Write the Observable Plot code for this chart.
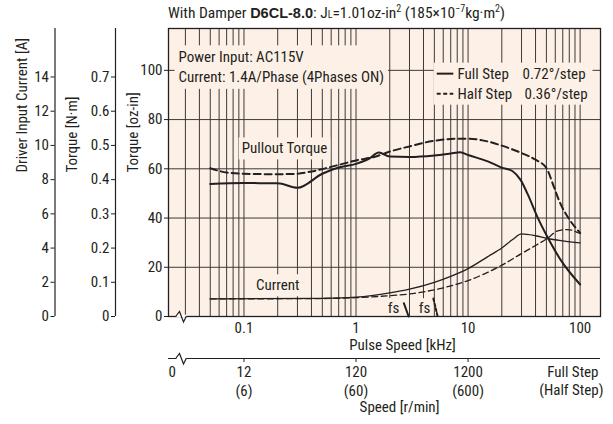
<!DOCTYPE html>
<html><head><meta charset="utf-8">
<script src="https://cdn.jsdelivr.net/npm/d3@7"></script>
<script src="https://cdn.jsdelivr.net/npm/@observablehq/plot@0.6"></script>
<style>
body{margin:0;background:#fff;}
#wrap{position:relative;width:613px;height:424px;font-family:"Roboto Condensed",sans-serif;color:#231f20;}
#title{position:absolute;left:168px;top:6px;font-size:15.5px;line-height:15px;white-space:nowrap;}
#title b{font-family:"Liberation Sans",Arial,sans-serif;font-weight:bold;font-size:14.5px;}
#title sup{font-size:10px;vertical-align:6px;line-height:0;}
#title .sub{font-size:10px;}
</style></head>
<body><div id="wrap"><div id="title">With Damper <b>D6CL-8.0</b>: J<span class="sub">L</span>=1.01oz-in<sup>2</sup> (185×10<sup>−7</sup>kg·m<sup>2</sup>)</div></div>
<script>
// ---- data ----
const pulseFullPO = [0.05,0.1,0.2,0.3,0.5,0.7,1,1.3,1.6,2,3,5,7,8.5,10,15,20,25,29.4,33.8,41.5,51,67,100];
const torqueFullPO = [53.8,54.2,54.1,52.3,58,60.5,62,64,66.6,65,64.8,65.4,66.2,66.7,65.6,63,60.5,59,55.5,50,40.5,32.4,23,13];
const pulseHalfPO = [0.05,0.07,0.1,0.2,0.3,0.4,0.7,1,1.5,2,3,5,8,10,15,20,30,40,50,58,65,80,100];
const torqueHalfPO = [60.2,58.5,58,57.8,58,58.9,61.6,63.4,65,67,69.1,71.4,72.2,72.2,71.1,69.4,66.4,63.7,60.3,53,47,39.5,34];
const pulseFullCur = [0.05,0.5,1,2,3,5,7,10,15,20,25,30,40,51,70,100];
const ampFullCur = [1.03,1.06,1.13,1.38,1.6,2.0,2.35,2.8,3.5,4.0,4.5,4.83,4.72,4.56,4.42,4.3];
const pulseHalfCur = [0.05,0.5,1,2,3,5,10,20,30,40,51,63,77,100];
const ampHalfCur = [1.03,1.05,1.1,1.22,1.32,1.56,2.1,3.0,3.68,4.15,4.56,5.0,5.08,4.85];
const pulseFullFs = [2.67,2.95];
const torqueFullFs = [5.4,0];
const pulseHalfFs = [4.9,5.35];
const torqueHalfFs = [7.3,0];

const ozTicks = [0,20,40,60,80,100];
const nmTicks = [0,0.1,0.2,0.3,0.4,0.5,0.6,0.7];
const ampTicks = [0,2,4,6,8,10,12,14];
const pulseTicks = [0.1,1,10,100];
const speedFullTicks = [12,120,1200];
const speedHalfTicks = [6,60,600];
const gridPulse = [0.03,0.04,0.05,0.06,0.07,0.08,0.09,0.1,0.2,0.3,0.4,0.5,0.6,0.7,0.8,0.9,1,2,3,4,5,6,7,8,9,10,20,30,40,50,60,70,80,90,100];
const gridTorque = [20,40,60,80,100];
const legendLabels = ["Full Step", "Half Step"];
const legendAngles = ["0.72°/step", "0.36°/step"];

// ---- styling / scale constants ----
const FONT = '"Roboto Condensed",sans-serif';
const INK = "#231f20", PEACH = "#fdf1e7", GRID = "#3a3a3a";
const OZ_PER_A = 6.95, OZ_PER_NM = 139;
const RPM_PER_KHZ_FULL = 120, RPM_PER_KHZ_HALF = 60;
const xDomain = [0.0212, 152], yDomain = [0, 117];

const rows = (xs, ys) => xs.map((x, i) => ({x, y: ys[i]}));
const fullPO = rows(pulseFullPO, torqueFullPO);
const halfPO = rows(pulseHalfPO, torqueHalfPO);
const fullCur = rows(pulseFullCur, ampFullCur.map(a => a * OZ_PER_A));
const halfCur = rows(pulseHalfCur, ampHalfCur.map(a => a * OZ_PER_A));
const fullFs = rows(pulseFullFs, torqueFullFs);
const halfFs = rows(pulseHalfFs, torqueHalfFs);

const notes = [
  {x: 0.23, y: 68.2, t: "Pullout Torque"},
  {x: 0.2, y: 12.6, t: "Current"},
  {x: 2.16, y: 3.3, t: "fs"},
  {x: 4.09, y: 3.3, t: "fs"}
];

const plot = Plot.plot({
  width: 613, height: 424,
  marginLeft: 168, marginRight: 13, marginTop: 28, marginBottom: 108,
  style: {fontFamily: FONT, fontSize: "15px", color: INK, background: "transparent", overflow: "visible"},
  x: {type: "log", domain: xDomain},
  y: {domain: yDomain},
  marks: [
    Plot.frame({fill: PEACH, stroke: null}),
    Plot.ruleX(gridPulse, {stroke: GRID, strokeWidth: 1}),
    Plot.ruleY(gridTorque, {stroke: GRID, strokeWidth: 1}),
    // left axes
    Plot.axisY(ozTicks, {anchor: "left", tickSize: 4, tickPadding: 2, label: null, tickFormat: d => String(d)}),
    Plot.axisY(nmTicks.map(t => t * OZ_PER_NM), {anchor: "left", dx: -53, tickSize: 4, tickPadding: 2, label: null,
      tickFormat: d => d === 0 ? "0" : (d / OZ_PER_NM).toFixed(1)}),
    Plot.axisY(ampTicks.map(a => a * OZ_PER_A), {anchor: "left", dx: -113.5, tickSize: 4, tickPadding: 2, label: null,
      tickFormat: d => String(Math.round(d / OZ_PER_A))}),
    Plot.ruleX([xDomain[0]], {dx: -53, y1: 0, y2: yDomain[1], stroke: INK, strokeWidth: 1.2}),
    Plot.ruleX([xDomain[0]], {dx: -113.5, y1: 0, y2: yDomain[1], stroke: INK, strokeWidth: 1.2}),
    Plot.text(["Driver Input Current [A]"], {frameAnchor: "left", rotate: -90, dx: -146, fill: INK}),
    Plot.text(["Torque [N·m]"], {frameAnchor: "left", rotate: -90, dx: -96, fill: INK}),
    Plot.text(["Torque [oz-in]"], {frameAnchor: "left", rotate: -90, dx: -35, fill: INK}),
    // bottom axes
    Plot.axisX(pulseTicks, {anchor: "bottom", tickSize: 0, tickPadding: 6, label: null, tickFormat: d => String(d)}),
    Plot.text(["Pulse Speed [kHz]"], {frameAnchor: "bottom", dx: 18, dy: 33, fill: INK}),
    Plot.ruleY([0], {dy: 42, stroke: INK, strokeWidth: 1.2}),
    Plot.axisX(speedFullTicks.map(s => s / RPM_PER_KHZ_FULL), {anchor: "bottom", dy: 42, tickSize: 4, tickPadding: 4, label: null,
      tickFormat: d => String(Math.round(d * RPM_PER_KHZ_FULL))}),
    Plot.axisX(speedHalfTicks.map(s => s / RPM_PER_KHZ_HALF), {anchor: "bottom", dy: 42, tickSize: 0, tickPadding: 27, label: null,
      tickFormat: d => `(${Math.round(d * RPM_PER_KHZ_HALF)})`}),
    Plot.text(["0"], {frameAnchor: "bottom-left", dy: 60, fill: INK}),
    Plot.text(["Full Step"], {frameAnchor: "bottom-right", textAnchor: "end", dx: -2, dy: 60, fill: INK}),
    Plot.text(["(Half Step)"], {frameAnchor: "bottom-right", textAnchor: "end", dx: 3, dy: 78, fill: INK}),
    Plot.text(["Speed [r/min]"], {frameAnchor: "bottom", dx: 15, dy: 95, fill: INK}),
    // annotations (boxed)
    Plot.text(["Power Input: AC115V\nCurrent: 1.4A/Phase (4Phases ON)"], {frameAnchor: "top-left", textAnchor: "start", lineAnchor: "top", lineHeight: 1.3, dx: 10, dy: 20, fill: INK}),
    Plot.text(notes, {x: "x", y: "y", text: "t", fill: INK}),
    Plot.text(legendLabels, {frameAnchor: "top-right", textAnchor: "start", dx: -143, dy: 39.5, fill: INK, filter: (d, i) => i === 0}),
    Plot.text(legendLabels, {frameAnchor: "top-right", textAnchor: "start", dx: -143, dy: 59.5, fill: INK, filter: (d, i) => i === 1}),
    Plot.text(legendAngles, {frameAnchor: "top-right", textAnchor: "start", dx: -78, dy: 39.5, fill: INK, filter: (d, i) => i === 0}),
    Plot.text(legendAngles, {frameAnchor: "top-right", textAnchor: "start", dx: -76, dy: 59.5, fill: INK, filter: (d, i) => i === 1}),
    // curves
    Plot.line(fullPO, {x: "x", y: "y", stroke: INK, strokeWidth: 2, curve: "monotone-x"}),
    Plot.line(halfPO, {x: "x", y: "y", stroke: INK, strokeWidth: 2, strokeDasharray: "7,4", curve: "monotone-x"}),
    Plot.line(fullCur, {x: "x", y: "y", stroke: INK, strokeWidth: 1.3, curve: "monotone-x"}),
    Plot.line(halfCur, {x: "x", y: "y", stroke: INK, strokeWidth: 1.3, strokeDasharray: "6,3.5", curve: "monotone-x"}),
    Plot.line(fullFs, {x: "x", y: "y", stroke: INK, strokeWidth: 2}),
    Plot.line(halfFs, {x: "x", y: "y", stroke: INK, strokeWidth: 2, strokeDasharray: "3,2"}),
    Plot.frame({stroke: INK, strokeWidth: 1.3})
  ]
});
const wrap = document.getElementById("wrap");
wrap.appendChild(plot);

// ---- post-processing: backgrounds behind boxed labels, legend samples, axis breaks ----
const svg = d3.select(plot);
const sr = plot.getBoundingClientRect();
const xs = plot.scale("x"), ys = plot.scale("y");
const left = xs.range[0], right = xs.range[1], bottom = ys.range[0];
const allText = Array.from(plot.querySelectorAll("text"));
const boxOf = els => {
  let x0 = Infinity, y0 = Infinity, x1 = -Infinity, y1 = -Infinity;
  for (const e of els) {
    const r = e.getBoundingClientRect();
    x0 = Math.min(x0, r.left - sr.left); y0 = Math.min(y0, r.top - sr.top);
    x1 = Math.max(x1, r.right - sr.left); y1 = Math.max(y1, r.bottom - sr.top);
  }
  return {x0, y0, x1, y1};
};
const addBox = (els, pad) => {
  if (!els.length) return;
  const b = boxOf(els);
  const rect = document.createElementNS("http://www.w3.org/2000/svg", "rect");
  rect.setAttribute("x", b.x0 - pad); rect.setAttribute("y", b.y0 - pad + 1);
  rect.setAttribute("width", b.x1 - b.x0 + 2 * pad); rect.setAttribute("height", b.y1 - b.y0 + 2 * pad - 2);
  rect.setAttribute("fill", PEACH);
  const g = els[0].parentNode;
  g.parentNode.insertBefore(rect, g);
};
const find = pred => allText.filter(e => pred(e.textContent));
addBox(find(t => t.startsWith("Power Input")), 4);
addBox(find(t => t === "Pullout Torque"), 3);
addBox(find(t => t === "Current"), 3);
find(t => t === "fs").forEach(e => addBox([e], 2));
const legendEls = find(t => legendLabels.includes(t) || legendAngles.includes(t)).filter(e => {
  const r = e.getBoundingClientRect(); return r.top - sr.top < 120;
});
// legend line samples
const lx1 = right - 163.3, lx2 = right - 146.7;
const rowsY = legendEls.filter(e => legendLabels.includes(e.textContent)).map(e => {
  const r = e.getBoundingClientRect(); return (r.top + r.bottom) / 2 - sr.top;
}).sort((a, b) => a - b);
const legendG = svg.append("g");
rowsY.forEach((y, i) => {
  legendG.append("line").attr("x1", lx1).attr("x2", lx2).attr("y1", y).attr("y2", y)
    .attr("stroke", INK).attr("stroke-width", 2).attr("stroke-dasharray", i === 0 ? null : "4,2.5");
});
if (legendEls.length) {
  const b = boxOf(legendEls);
  const rect = document.createElementNS("http://www.w3.org/2000/svg", "rect");
  const x0 = lx1 - 3, y0 = b.y0 - 2;
  rect.setAttribute("x", x0); rect.setAttribute("y", y0);
  rect.setAttribute("width", b.x1 + 5 - x0); rect.setAttribute("height", b.y1 + 2 - y0);
  rect.setAttribute("fill", PEACH);
  const g = legendEls[0].parentNode; g.parentNode.insertBefore(rect, g);
}
// axis breaks (zigzags)
const zig = (y, cover) => {
  svg.append("line").attr("x1", left + 8.5).attr("x2", left + 18.5).attr("y1", y).attr("y2", y)
    .attr("stroke", cover).attr("stroke-width", 2.6);
  svg.append("path").attr("d", `M${left + 8},${y} L${left + 11.5},${y - 4.5} L${left + 15.5},${y + 6} L${left + 18.5},${y}`)
    .attr("fill", "none").attr("stroke", INK).attr("stroke-width", 1.2).attr("stroke-linejoin", "miter");
};
zig(bottom, "#ffffff");
zig(bottom + 42, "#ffffff");
</script>
</body></html>
